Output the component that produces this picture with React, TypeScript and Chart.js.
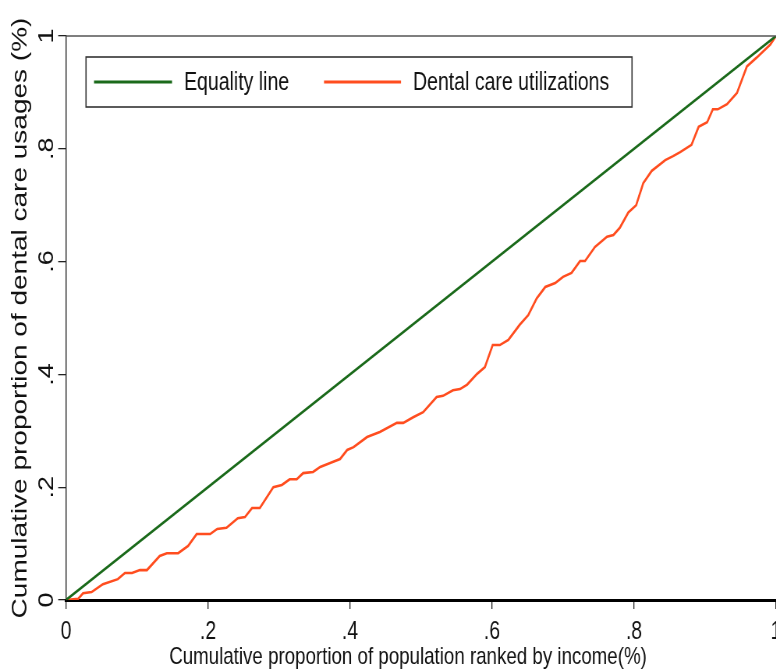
import React, { useEffect, useRef } from "react";
import { Chart, registerables } from "chart.js";

Chart.register(...registerables);

const equalityX = [0, 1];
const equalityY = [0, 1];

const dentalX = [
  0, 0.017, 0.024, 0.036, 0.052, 0.073, 0.083, 0.093, 0.104, 0.114, 0.132, 0.142, 0.158, 0.172,
  0.184, 0.203, 0.213, 0.226, 0.242, 0.252, 0.262, 0.273, 0.292, 0.304, 0.315, 0.325, 0.334,
  0.348, 0.358, 0.372, 0.386, 0.396, 0.405, 0.424, 0.442, 0.466, 0.475, 0.489, 0.503, 0.522,
  0.531, 0.545, 0.555, 0.565, 0.579, 0.59, 0.601, 0.611, 0.623, 0.639, 0.651, 0.663, 0.675,
  0.689, 0.7, 0.712, 0.724, 0.731, 0.745, 0.762, 0.771, 0.78, 0.792, 0.803, 0.813, 0.825,
  0.844, 0.855, 0.865, 0.881, 0.891, 0.903, 0.911, 0.918, 0.931, 0.945, 0.959, 0.973, 0.992, 1.0,
];
const dentalY = [
  0, 0.002, 0.012, 0.014, 0.028, 0.037, 0.048, 0.048, 0.053, 0.053, 0.078, 0.083, 0.083, 0.096,
  0.117, 0.117, 0.126, 0.128, 0.145, 0.147, 0.163, 0.163, 0.2, 0.204, 0.214, 0.214, 0.225,
  0.227, 0.236, 0.243, 0.25, 0.266, 0.271, 0.289, 0.298, 0.314, 0.314, 0.324, 0.333, 0.36,
  0.362, 0.372, 0.374, 0.382, 0.401, 0.413, 0.452, 0.452, 0.461, 0.488, 0.505, 0.535, 0.555,
  0.562, 0.573, 0.58, 0.601, 0.601, 0.626, 0.644, 0.647, 0.66, 0.687, 0.7, 0.739, 0.761,
  0.78, 0.787, 0.794, 0.807, 0.839, 0.847, 0.87, 0.87, 0.879, 0.899, 0.946, 0.962, 0.985, 1.0,
];

const seriesLabels = ["Equality line", "Dental care utilizations"];
const xTickLabels = ["0", ".2", ".4", ".6", ".8", "1"];
const yTickLabels = ["0", ".2", ".4", ".6", ".8", "1"];
const xTitle = "Cumulative proportion of population ranked by income(%)";
const yTitle = "Cumulative proportion of dental care usages (%)";

const S = 0.78; // horizontal squeeze of the reference image
const CW = 1030;
const CH = 670;
const FONT = "'Liberation Sans', Arial, sans-serif";

const decorPlugin = {
  id: "decor",
  afterDraw(chart: any) {
    const { ctx, chartArea } = chart;
    const ys = chart.scales.y;
    ctx.save();
    // top frame line
    ctx.strokeStyle = "#555";
    ctx.lineWidth = 1.5;
    ctx.beginPath();
    ctx.moveTo(chartArea.left, chartArea.top);
    ctx.lineTo(chartArea.right + 5, chartArea.top);
    ctx.stroke();

    // rotated y tick labels
    ctx.fillStyle = "#111";
    ctx.font = `27px ${FONT}`;
    ctx.textAlign = "center";
    ctx.textBaseline = "alphabetic";
    ys.ticks.forEach((t: any, i: number) => {
      const py = ys.getPixelForValue(t.value);
      ctx.save();
      ctx.translate(68, py);
      ctx.rotate(-Math.PI / 2);
      ctx.fillText(yTickLabels[i] ?? "", 0, 0);
      ctx.restore();
    });

    // x axis title (centred on the whole graph, as in the reference)
    ctx.fillStyle = "#111";
    ctx.font = `24px ${FONT}`;
    ctx.textAlign = "center";
    ctx.textBaseline = "middle";
    ctx.fillText(xTitle, 408 / S, 657);

    // legend box
    const bx1 = 86 / S, bx2 = 632 / S, by1 = 57, by2 = 107;
    ctx.fillStyle = "#fff";
    ctx.fillRect(bx1, by1, bx2 - bx1, by2 - by1);
    ctx.strokeStyle = "#333";
    ctx.lineWidth = 1.6;
    ctx.strokeRect(bx1, by1, bx2 - bx1, by2 - by1);
    const ly = 82;
    const entries = [
      { x1: 94 / S, x2: 172 / S, tx: 184 / S },
      { x1: 324 / S, x2: 401 / S, tx: 413 / S },
    ];
    chart.data.datasets.forEach((ds: any, i: number) => {
      const e = entries[i];
      ctx.strokeStyle = ds.borderColor;
      ctx.lineWidth = 3;
      ctx.beginPath();
      ctx.moveTo(e.x1, ly);
      ctx.lineTo(e.x2, ly);
      ctx.stroke();
      ctx.fillStyle = "#111";
      ctx.font = `25px ${FONT}`;
      ctx.textAlign = "left";
      ctx.textBaseline = "middle";
      ctx.fillText(ds.label, e.tx, ly + 1);
    });
    ctx.restore();
  },
};

export default function App() {
  const ref = useRef<HTMLCanvasElement | null>(null);
  useEffect(() => {
    if (!ref.current) return;
    const chart = new Chart(ref.current, {
      type: "line",
      data: {
        datasets: [
          {
            label: seriesLabels[0],
            data: equalityX.map((x, i) => ({ x, y: equalityY[i] })),
            borderColor: "#1b6a1b",
            borderWidth: 2.6,
            pointRadius: 0,
            tension: 0,
          },
          {
            label: seriesLabels[1],
            data: dentalX.map((x, i) => ({ x, y: dentalY[i] })),
            borderColor: "#ff4d1f",
            borderWidth: 2.6,
            pointRadius: 0,
            tension: 0,
          },
        ],
      },
      options: {
        responsive: false,
        animation: false,
        events: [],
        layout: { padding: { top: 36, left: 0, bottom: 0, right: CW - 776 / S } },
        plugins: { legend: { display: false }, tooltip: { enabled: false } },
        scales: {
          x: {
            type: "linear",
            min: 0,
            max: 1,
            afterFit: (s: any) => {
              s.height = 70;
            },
            ticks: {
              stepSize: 0.2,
              color: "#111",
              font: { family: FONT, size: 25 },
              padding: 8,
              maxRotation: 0,
              callback: (_v: any, i: number) => xTickLabels[i],
            },
            grid: { drawOnChartArea: false, drawTicks: true, tickLength: 9, color: "#222", lineWidth: 1.3 },
            border: { color: "#000", width: 3 },
            title: { display: false },
          },
          y: {
            type: "linear",
            min: 0,
            max: 1,
            afterFit: (s: any) => {
              s.width = 66 / S;
            },
            ticks: { stepSize: 0.2, display: false },
            grid: { drawOnChartArea: false, drawTicks: true, tickLength: 10, color: "#222", lineWidth: 1.3 },
            border: { color: "#222", width: 1.4 },
            title: {
              display: true,
              text: yTitle,
              color: "#111",
              font: { family: FONT, size: 28, lineHeight: 1 },
              padding: { top: 12, bottom: 0 },
            },
          },
        },
      },
      plugins: [decorPlugin],
    } as any);
    return () => chart.destroy();
  }, []);

  return (
    <div
      style={{
        position: "fixed",
        left: 0,
        top: 0,
        width: 776,
        height: 670,
        overflow: "hidden",
        background: "#fff",
      }}
    >
      <canvas
        ref={ref}
        width={CW}
        height={CH}
        style={{ display: "block", transform: `scaleX(${S})`, transformOrigin: "0 0" }}
      />
    </div>
  );
}
